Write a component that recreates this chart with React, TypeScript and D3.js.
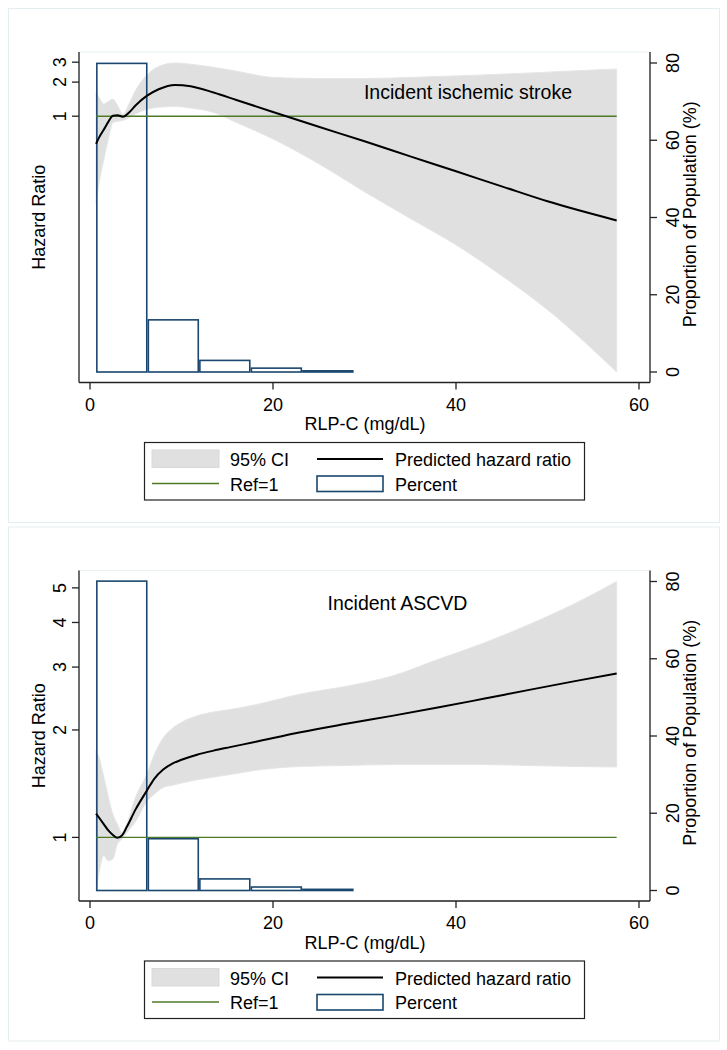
import React, { useEffect, useRef } from 'react';
import * as d3 from 'd3';

// histogram bins of RLP-C (mg/dL), same in both panels
const binEdges = [0.66, 6.29, 11.92, 17.55, 23.18, 28.81];
const xTicks = [0, 20, 40, 60];
const pctTicks = [0, 20, 40, 60, 80];

// Incident ischemic stroke
const strokeX = [0.66, 1.0, 1.5, 2.0, 2.5, 3.0, 3.6, 4.3, 5.0, 6.2, 7.5, 9.3, 11, 13.5, 16, 20, 25, 30, 35, 40, 45, 50, 57.56];
const strokeHR = [0.57, 0.65, 0.76, 0.89, 1.01, 1.02, 0.99, 1.085, 1.25, 1.51, 1.73, 1.89, 1.84, 1.62, 1.39, 1.09, 0.807, 0.6, 0.442, 0.326, 0.24, 0.177, 0.12];
const strokeUpper = [1.62, 1.46, 1.28, 1.35, 1.41, 1.25, 1.04, 1.3, 1.7, 2.3, 2.75, 2.95, 2.88, 2.7, 2.5, 2.2, 2.15, 2.15, 2.2, 2.27, 2.35, 2.45, 2.61];
const strokeLower = [0.17, 0.26, 0.41, 0.625, 0.88, 0.9, 0.92, 0.97, 1.05, 1.15, 1.2, 1.22, 1.18, 1.08, 0.88, 0.63, 0.38, 0.215, 0.125, 0.073, 0.039, 0.0195, 0.0055];
const strokePct = [79.9, 13.5, 3.0, 1.0, 0.3];
const strokeTicks = [1, 2, 3];

// Incident ASCVD
const ascvdX = [0.66, 1.0, 1.5, 2.0, 2.5, 3.0, 3.5, 4.0, 5.0, 6.2, 7.0, 8.0, 9.0, 10, 11.7, 13.5, 15.3, 18, 23, 28, 33, 38, 43, 48, 53, 57.56];
const ascvdHR = [1.166, 1.135, 1.09, 1.046, 1.016, 0.997, 1.013, 1.067, 1.2, 1.35, 1.457, 1.55, 1.61, 1.65, 1.705, 1.75, 1.79, 1.85, 1.97, 2.08, 2.19, 2.31, 2.445, 2.59, 2.74, 2.88];
const ascvdUpper = [1.75, 1.67, 1.48, 1.3, 1.16, 1.088, 1.03, 1.09, 1.3, 1.5, 1.7, 1.9, 2.02, 2.1, 2.19, 2.245, 2.28, 2.35, 2.52, 2.65, 2.83, 3.15, 3.5, 3.95, 4.52, 5.21];
const ascvdLower = [0.71, 0.8, 0.89, 0.86, 0.87, 0.96, 0.99, 1.03, 1.11, 1.26, 1.32, 1.38, 1.4, 1.42, 1.45, 1.475, 1.5, 1.54, 1.58, 1.59, 1.6, 1.6, 1.6, 1.59, 1.58, 1.575];
const ascvdPct = [80.1, 13.4, 3.0, 0.9, 0.3];
const ascvdTicks = [1, 2, 3, 4, 5];

const panels = [
  { title: 'Incident ischemic stroke', xs: strokeX, hr: strokeHR, lo: strokeLower, hi: strokeUpper, pct: strokePct, ticks: strokeTicks, titleX: 468, titleY: 99 },
  { title: 'Incident ASCVD', xs: ascvdX, hr: ascvdHR, lo: ascvdLower, hi: ascvdUpper, pct: ascvdPct, ticks: ascvdTicks, titleX: 397.5, titleY: 91.5 },
];

const FONT = "'Liberation Sans', Arial, Helvetica, sans-serif";
const NAVY = '#1a476f';
const GREEN = '#4e7a27';
const CI = '#e0e0e0';
const AXIS = '#222';

const App = () => {
  const svgRef = useRef<SVGSVGElement>(null);

  useEffect(() => {
    const svg = d3.select(svgRef.current);
    svg.selectAll('*').remove();
    svg.style('font-family', FONT);

    const plotL = 79, plotR = 650, plotT = 52, plotB = 382.5;
    const innerT = 63, innerB = 372;

    panels.forEach((p, k) => {
      const g = svg.append('g').attr('transform', `translate(0,${k * 518.5})`);

      // frames
      g.append('rect').attr('x', 8.5).attr('y', 8.5).attr('width', 711).attr('height', 514)
        .attr('fill', 'none').attr('stroke', '#e4edef');
      g.append('rect').attr('x', plotL).attr('y', plotT).attr('width', plotR - plotL).attr('height', plotB - plotT)
        .attr('fill', 'none').attr('stroke', '#e8f0f1');

      const x = d3.scaleLinear().domain([0, 60]).range([90, 639]);
      const y = d3.scaleLog().domain([d3.min(p.lo) as number, d3.max(p.hi) as number]).range([innerB, innerT]);
      const y2 = d3.scaleLinear().domain([0, 80]).range([innerB, innerT]);
      const idx = d3.range(p.xs.length);

      // 95% CI
      const band = d3.area<number>()
        .x((i) => x(p.xs[i]))
        .y0((i) => y(p.lo[i]))
        .y1((i) => y(p.hi[i]))
        .curve(d3.curveMonotoneX);
      g.append('path').attr('d', band(idx)).attr('fill', CI).attr('stroke', '#e6e6e6').attr('stroke-width', 1);

      // histogram (percent)
      g.append('g')
        .selectAll('rect')
        .data(p.pct)
        .enter()
        .append('rect')
        .attr('x', (d, i) => x(binEdges[i]) + 0.8)
        .attr('width', (d, i) => x(binEdges[i + 1]) - x(binEdges[i]) - 1.6)
        .attr('y', (d) => y2(d))
        .attr('height', (d) => y2(0) - y2(d))
        .attr('fill', 'none')
        .attr('stroke', NAVY)
        .attr('stroke-width', 1.6);

      // Ref = 1
      const xExt = d3.extent(p.xs) as [number, number];
      g.append('line').attr('x1', x(xExt[0])).attr('x2', x(xExt[1])).attr('y1', y(1)).attr('y2', y(1))
        .attr('stroke', GREEN).attr('stroke-width', 1.4);

      // predicted hazard ratio
      const line = d3.line<number>().x((i) => x(p.xs[i])).y((i) => y(p.hr[i])).curve(d3.curveMonotoneX);
      g.append('path').attr('d', line(idx)).attr('fill', 'none').attr('stroke', '#000').attr('stroke-width', 2);

      // axes lines
      g.append('line').attr('x1', plotL).attr('x2', plotL).attr('y1', plotT).attr('y2', plotB).attr('stroke', AXIS).attr('stroke-width', 1.3);
      g.append('line').attr('x1', plotR).attr('x2', plotR).attr('y1', plotT).attr('y2', plotB).attr('stroke', AXIS).attr('stroke-width', 1.3);
      g.append('line').attr('x1', plotL).attr('x2', plotR).attr('y1', plotB).attr('y2', plotB).attr('stroke', AXIS).attr('stroke-width', 1.3);

      // left ticks
      const lt = g.append('g').selectAll('g').data(p.ticks).enter().append('g');
      lt.append('line').attr('x1', plotL - 7).attr('x2', plotL).attr('y1', (d) => y(d)).attr('y2', (d) => y(d))
        .attr('stroke', AXIS).attr('stroke-width', 1.3);
      lt.append('text').attr('transform', (d) => `translate(66,${y(d)}) rotate(-90)`)
        .attr('text-anchor', 'middle').style('font-size', '18px').text((d) => d);

      // right ticks
      const rt = g.append('g').selectAll('g').data(pctTicks).enter().append('g');
      rt.append('line').attr('x1', plotR).attr('x2', plotR + 7).attr('y1', (d) => y2(d)).attr('y2', (d) => y2(d))
        .attr('stroke', AXIS).attr('stroke-width', 1.3);
      rt.append('text').attr('transform', (d) => `translate(679,${y2(d)}) rotate(-90)`)
        .attr('text-anchor', 'middle').style('font-size', '18px').text((d) => d);

      // x ticks
      const bt = g.append('g').selectAll('g').data(xTicks).enter().append('g');
      bt.append('line').attr('x1', (d) => x(d)).attr('x2', (d) => x(d)).attr('y1', plotB).attr('y2', plotB + 7)
        .attr('stroke', AXIS).attr('stroke-width', 1.3);
      bt.append('text').attr('x', (d) => x(d)).attr('y', 410.5)
        .attr('text-anchor', 'middle').style('font-size', '18px').text((d) => d);

      // axis titles
      const midY = (plotT + plotB) / 2;
      g.append('text').attr('transform', `translate(45,${midY}) rotate(-90)`).attr('text-anchor', 'middle')
        .style('font-size', '18px').text('Hazard Ratio');
      g.append('text').attr('transform', `translate(695.5,${midY - 3}) rotate(-90)`).attr('text-anchor', 'middle')
        .style('font-size', '18px').text('Proportion of Population (%)');
      g.append('text').attr('x', 365).attr('y', 430).attr('text-anchor', 'middle')
        .style('font-size', '18px').text('RLP-C (mg/dL)');

      // panel title
      g.append('text').attr('x', p.titleX).attr('y', p.titleY).attr('text-anchor', 'middle')
        .style('font-size', '19.5px').text(p.title);

      // legend
      const lg = g.append('g');
      lg.append('rect').attr('x', 144.5).attr('y', 442.5).attr('width', 440).attr('height', 57.5)
        .attr('fill', '#fff').attr('stroke', AXIS).attr('stroke-width', 1.2);
      lg.append('rect').attr('x', 152).attr('y', 450).attr('width', 67).attr('height', 17.5)
        .attr('fill', CI).attr('stroke', '#d9d9d9');
      lg.append('text').attr('x', 230).attr('y', 466).style('font-size', '18px').text('95% CI');
      lg.append('line').attr('x1', 317).attr('x2', 383).attr('y1', 459).attr('y2', 459).attr('stroke', '#000').attr('stroke-width', 2);
      lg.append('text').attr('x', 395).attr('y', 466).style('font-size', '18px').text('Predicted hazard ratio');
      lg.append('line').attr('x1', 152).attr('x2', 219).attr('y1', 483.5).attr('y2', 483.5).attr('stroke', GREEN).attr('stroke-width', 1.4);
      lg.append('text').attr('x', 230).attr('y', 490.7).style('font-size', '18px').text('Ref=1');
      lg.append('rect').attr('x', 317).attr('y', 476).attr('width', 66).attr('height', 15.5)
        .attr('fill', '#fff').attr('stroke', NAVY).attr('stroke-width', 1.6);
      lg.append('text').attr('x', 395).attr('y', 490.7).style('font-size', '18px').text('Percent');
    });
  }, []);

  return (
    <svg
      ref={svgRef}
      width={727}
      height={1050}
      style={{ position: 'absolute', left: 0, top: 0, background: '#fff' }}
    ></svg>
  );
};

export default App;
